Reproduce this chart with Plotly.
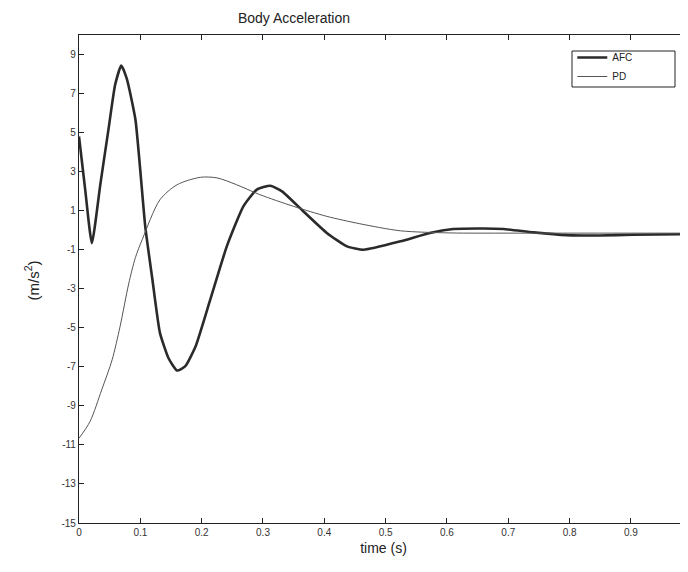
import plotly.graph_objects as go

# AFC 応答（太線）
afc_t = [0, 0.01, 0.021, 0.035, 0.048, 0.059, 0.069, 0.078, 0.092, 0.108, 0.12,
         0.132, 0.146, 0.160, 0.173, 0.19, 0.214, 0.241, 0.268, 0.29, 0.312, 0.331,
         0.366, 0.404, 0.437, 0.464, 0.524, 0.572, 0.61, 0.659, 0.692, 0.741,
         0.795, 0.849, 0.903, 0.993]
afc_a = [4.8, 2.1, -0.66, 2.4, 5.15, 7.46, 8.44, 7.75, 5.67, 0.2, -2.6,
         -5.26, -6.56, -7.19, -6.98, -5.96, -3.56, -0.83, 1.22, 2.08, 2.28, 1.99,
         0.96, -0.14, -0.83, -1.0, -0.57, -0.14, 0.06, 0.09, 0.06, -0.11,
         -0.25, -0.27, -0.23, -0.2]

# PD 応答（細線）
pd_t = [0, 0.018, 0.037, 0.054, 0.067, 0.081, 0.092, 0.103, 0.132, 0.16,
        0.198, 0.225, 0.257, 0.295, 0.35, 0.404, 0.458, 0.524, 0.605, 0.7, 0.8, 0.993]
pd_a = [-10.66, -9.8, -8.18, -6.64, -4.93, -2.75, -1.4, -0.49, 1.56, 2.33,
        2.71, 2.68, 2.33, 1.82, 1.22, 0.71, 0.33, -0.03, -0.14, -0.15, -0.15, -0.15]

x_ticks = [0, 0.1, 0.2, 0.3, 0.4, 0.5, 0.6, 0.7, 0.8, 0.9]
y_ticks = list(range(-15, 10, 2))

FONT = "Liberation Sans, Arial, sans-serif"

# ページ余白 8px を見込んだ図サイズ
W, H = 680, 564
L, T, B = 71, 27, 49

fig = go.Figure()

fig.add_trace(go.Scatter(
    x=afc_t, y=afc_a, mode='lines', name='AFC',
    line=dict(color='#2a2a2a', width=2.6, shape='spline', smoothing=0.5)
))
fig.add_trace(go.Scatter(
    x=pd_t, y=pd_a, mode='lines', name='PD',
    line=dict(color='#555555', width=1, shape='spline', smoothing=0.8)
))

axis_common = dict(
    showline=True, linecolor='#222', linewidth=1.2, mirror='ticks',
    ticks='inside', ticklen=5, tickcolor='#222',
    showgrid=False, zeroline=False, automargin=False,
    tickfont=dict(family=FONT, size=10, color='#333'),
)

fig.update_xaxes(range=[0, 0.993], tickvals=x_ticks,
                 ticktext=[f"{v:g}" for v in x_ticks],
                 title=dict(text='time (s)', font=dict(family=FONT, size=14, color='#222'),
                            standoff=6),
                 **axis_common)
fig.update_yaxes(range=[-15, 10], tickvals=y_ticks,
                 ticktext=[str(v) for v in y_ticks],
                 **axis_common)

plot_w = W - L
plot_h = H - T - B

# 縦軸ラベル
fig.add_annotation(
    xref='paper', yref='paper', x=(12 - L) / plot_w, y=(H - B - 272) / plot_h,
    text='(m/s<sup>2</sup>)', textangle=-90, showarrow=False,
    font=dict(family=FONT, size=15, color='#222')
)

# 凡例の枠（凡例本体より広い）
fig.add_shape(
    type='rect', xref='paper', yref='paper', layer='above',
    x0=(572 - 79) / plot_w, x1=(675 - 79) / plot_w,
    y0=(523 - 87) / plot_h, y1=(523 - 51) / plot_h,
    line=dict(color='#222', width=1), fillcolor='white'
)

fig.update_layout(
    width=W, height=H,
    margin=dict(l=L, r=0, t=T, b=B, autoexpand=False),
    paper_bgcolor='white', plot_bgcolor='white',
    title=dict(text='Body Acceleration', xref='container', x=286 / W, xanchor='center',
               y=1 - 10 / H, yanchor='middle',
               font=dict(family=FONT, size=14, color='#222')),
    legend=dict(x=0.81, y=(523 - 43) / plot_h, xanchor='left', yanchor='top',
                borderwidth=0, bgcolor='rgba(0,0,0,0)',
                font=dict(family=FONT, size=10, color='#222'),
                itemwidth=30, tracegroupgap=0),
    showlegend=True,
)

fig.write_html("out.html")
